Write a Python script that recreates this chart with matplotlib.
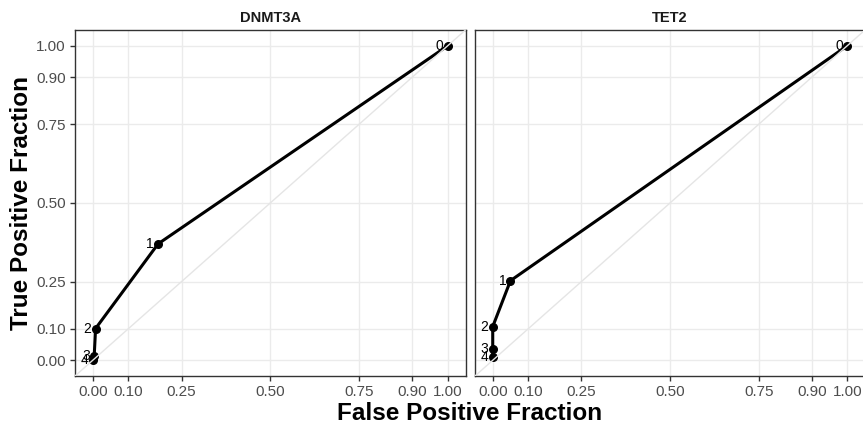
import numpy as np
import matplotlib.pyplot as plt

plt.rcParams['font.family'] = ['Liberation Sans', 'DejaVu Sans']

genes = ["DNMT3A", "TET2"]
# ROC points per cutoff (cutoff, FPF, TPF)
cutoffs = [0, 1, 2, 3, 4]
dnmt3a_fpf = [1.0, 0.184, 0.008, 0.004, 0.0]
dnmt3a_tpf = [1.0, 0.37, 0.101, 0.012, 0.0]
tet2_fpf = [1.0, 0.05, 0.0, 0.0, 0.0]
tet2_tpf = [1.0, 0.253, 0.107, 0.035, 0.01]

breaks = [0, 0.1, 0.25, 0.5, 0.75, 0.9, 1.0]
break_labels = ["0.00", "0.10", "0.25", "0.50", "0.75", "0.90", "1.00"]

W, H = 863, 428
fig = plt.figure(figsize=(W / 100, H / 100), dpi=100)

panels = [(75, 465.5), (475, 865)]
top, bottom = 30, 376
data = [(dnmt3a_fpf, dnmt3a_tpf), (tet2_fpf, tet2_tpf)]

for i, (gene, (l, r), (fpf, tpf)) in enumerate(zip(genes, panels, data)):
    ax = fig.add_axes([l / W, 1 - bottom / H, (r - l) / W, (bottom - top) / H])
    ax.set_xlim(-0.05, 1.05)
    ax.set_ylim(-0.05, 1.05)
    ax.set_xticks(breaks)
    ax.set_xticklabels(break_labels)
    ax.set_yticks(breaks)
    if i == 0:
        ax.set_yticklabels(break_labels)
    else:
        ax.tick_params(axis='y', left=False, labelleft=False)
    ax.grid(True, color='#ebebeb', linewidth=1.0, zorder=0)
    ax.set_axisbelow(True)
    for s in ax.spines.values():
        s.set_color('#333333')
        s.set_linewidth(1.0)
    ax.tick_params(axis='both', colors='#333333', labelcolor='#4d4d4d',
                   labelsize=11, length=3.5, width=1.0, pad=3)

    ax.plot(fpf, tpf, color='black', linewidth=2.2, zorder=3)
    ax.scatter(fpf, tpf, s=30, color='black', zorder=4)
    for c, x, y in zip(cutoffs, fpf, tpf):
        ax.annotate(str(c), (x, y), xytext=(-3, 0), textcoords='offset points',
                    ha='right', va='center', fontsize=10, color='black', zorder=5)
    # reference diagonal drawn over the curve
    ax.plot([-0.05, 1.05], [-0.05, 1.05], color='#e5e5e5', linewidth=1.0, zorder=6)

    ax.set_title(gene, fontsize=10.5, fontweight='bold', color='#1a1a1a', pad=6)

fig.text(((75 + 865) / 2) / W, 1 - 413 / H, "False Positive Fraction",
         ha='center', va='center', fontsize=17.5, fontweight='bold')
fig.text(22 / W, 1 - 203 / H, "True Positive Fraction", rotation=90,
         ha='center', va='center', fontsize=17.5, fontweight='bold')

fig.savefig("out.png", dpi=100)
